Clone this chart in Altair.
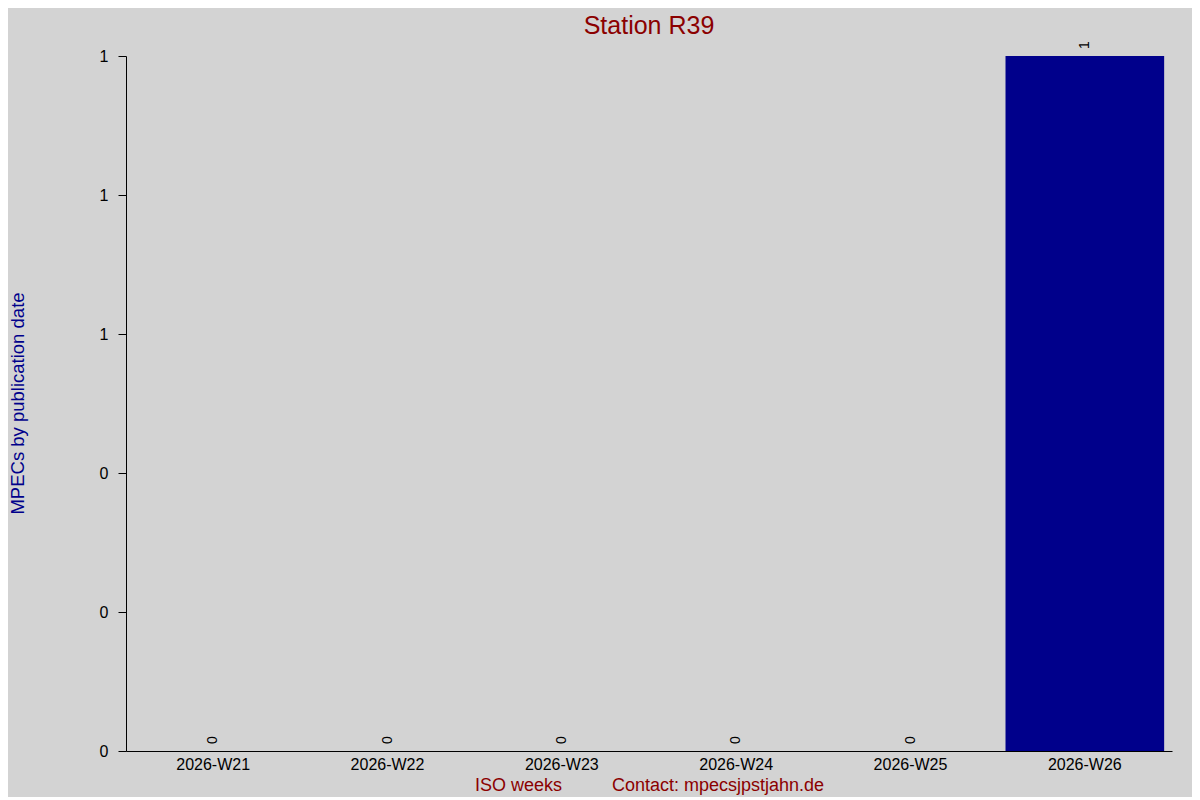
import altair as alt
import pandas as pd

weeks = ["2026-W21", "2026-W22", "2026-W23", "2026-W24", "2026-W25", "2026-W26"]
counts = [0, 0, 0, 0, 0, 1]
y_ticks = [0, 0.2, 0.4, 0.6, 0.8, 1.0]

df = pd.DataFrame({"week": weeks, "count": counts})

FONT = "Liberation Sans"
NB = "\u00a0"
x_title = "ISO weeks" + NB * 10 + "Contact: mpecsjpstjahn.de"

x_enc = alt.X(
    "week:N",
    sort=weeks,
    scale=alt.Scale(paddingInner=0.09, paddingOuter=0.045),
    axis=alt.Axis(
        title=x_title,
        titleColor="#8B0000",
        titleFontSize=18,
        titleFontWeight="normal",
        titleFont=FONT,
        titlePadding=4,
        labelAngle=0,
        labelFontSize=16,
        labelFont=FONT,
        labelColor="black",
        labelPadding=5,
        ticks=False,
        domainColor="black",
        grid=False,
    ),
)

y_enc = alt.Y(
    "count:Q",
    scale=alt.Scale(domain=[0, 1], nice=False),
    axis=alt.Axis(
        title="MPECs by publication date",
        titleColor="#00008B",
        titleFontSize=18.5,
        titleFontWeight="normal",
        titleFont=FONT,
        titleAngle=-90,
        titleX=-109,
        titleY=347,
        titleAlign="center",
        titleBaseline="middle",
        values=y_ticks,
        format=".0f",
        labelFontSize=16,
        labelFont=FONT,
        labelColor="black",
        labelPadding=10,
        tickSize=8,
        tickColor="black",
        domainColor="black",
        grid=False,
    ),
)

bars = alt.Chart(df).mark_bar(color="#00008B").encode(x=x_enc, y=y_enc)

labels = alt.Chart(df).mark_text(
    angle=270, align="left", baseline="middle", dx=7, fontSize=14, font=FONT, color="black"
).encode(x=alt.X("week:N", sort=weeks), y=alt.Y("count:Q"), text=alt.Text("count:Q"))

chart = (
    alt.layer(bars, labels)
    .properties(
        width=1046,
        height=695,
        title=alt.TitleParams(
            "Station R39",
            color="#8B0000",
            fontSize=25,
            font=FONT,
            fontWeight="normal",
            offset=2,
            anchor="middle",
        ),
        autosize=alt.AutoSizeParams(type="none"),
        padding={"left": 118, "top": 48, "right": 20, "bottom": 46},
        background="#d3d3d3",
    )
    .configure_view(stroke=None)
)

chart.save("out.html", embed_options={"renderer": "svg", "actions": False})
